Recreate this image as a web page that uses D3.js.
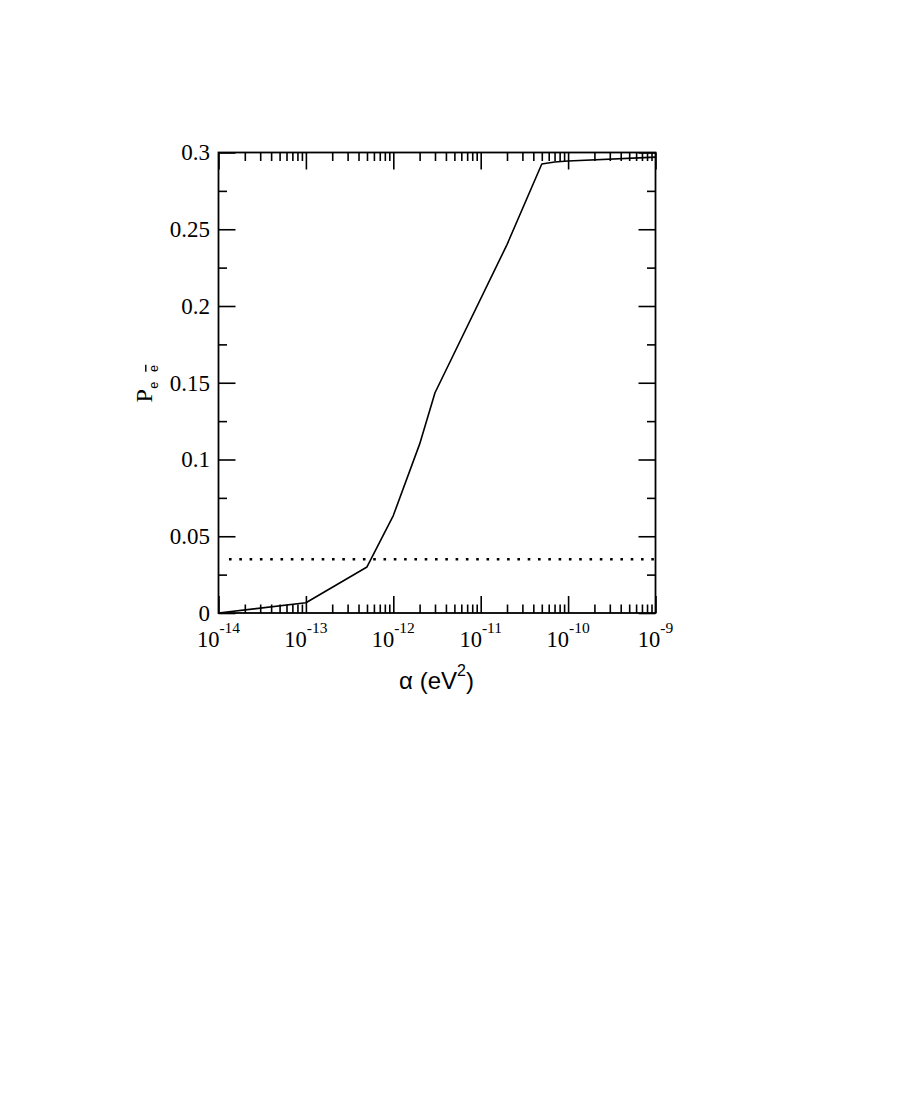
<!DOCTYPE html>
<html>
<head>
<meta charset="utf-8">
<script src="https://cdn.jsdelivr.net/npm/d3@7"></script>
<style>
  body { margin: 0; background: #fff; }
  svg { display: block; }
  .serif { font-family: "Liberation Serif", "Times New Roman", serif; }
  .sans { font-family: "Liberation Sans", Arial, sans-serif; }
</style>
</head>
<body>
<svg id="chart" width="899" height="1117"></svg>
<script>
// curve values
const alpha = [1e-14, 1e-13, 5e-13, 1e-12, 2e-12, 3e-12, 2e-11, 5e-11, 7e-11, 1e-10, 1e-9];
const prob  = [0, 0.0067, 0.030, 0.0635, 0.110, 0.1435, 0.240, 0.2925, 0.2938, 0.2945, 0.297];

// horizontal dotted reference level
const refLevel = 0.035;

// tick values
const xMajor = [1e-14, 1e-13, 1e-12, 1e-11, 1e-10, 1e-9];
const xExponents = ["-14", "-13", "-12", "-11", "-10", "-9"];
const yMajor = [0, 0.05, 0.1, 0.15, 0.2, 0.25, 0.3];
const yLabels = ["0", "0.05", "0.1", "0.15", "0.2", "0.25", "0.3"];
const yMinor = [0.025, 0.075, 0.125, 0.175, 0.225, 0.275];

const plotL = 218.5, plotR = 655.5, plotT = 152.5, plotB = 613;
const svg = d3.select("#chart");

const x = d3.scaleLog().domain([1e-14, 1e-9]).range([plotL, plotR]);
const y = d3.scaleLinear().domain([0, 0.3]).range([plotB, plotT]);

// minor ticks on log axis: 2..9 in each decade
const xMinor = [];
for (let e = -14; e < -9; e++) {
    for (let m = 2; m <= 9; m++) xMinor.push(m * Math.pow(10, e));
}

const majorLen = 17, minorLen = 8.5;

function styleAxis(g) {
    g.select(".domain").remove();
    g.selectAll("line").attr("stroke", "#000").attr("stroke-width", 1.6);
}

// bottom / top axes (ticks point inward)
svg.append("g").attr("transform", `translate(0,${plotB})`)
    .call(d3.axisBottom(x).tickValues(xMajor).tickSize(-majorLen).tickFormat(""))
    .call(styleAxis);
svg.append("g").attr("transform", `translate(0,${plotB})`)
    .call(d3.axisBottom(x).tickValues(xMinor).tickSize(-minorLen).tickFormat(""))
    .call(styleAxis);
svg.append("g").attr("transform", `translate(0,${plotT})`)
    .call(d3.axisTop(x).tickValues(xMajor).tickSize(-majorLen).tickFormat(""))
    .call(styleAxis);
svg.append("g").attr("transform", `translate(0,${plotT})`)
    .call(d3.axisTop(x).tickValues(xMinor).tickSize(-minorLen).tickFormat(""))
    .call(styleAxis);

// left / right axes
svg.append("g").attr("transform", `translate(${plotL},0)`)
    .call(d3.axisLeft(y).tickValues(yMajor).tickSize(-majorLen).tickFormat(""))
    .call(styleAxis);
svg.append("g").attr("transform", `translate(${plotL},0)`)
    .call(d3.axisLeft(y).tickValues(yMinor).tickSize(-minorLen).tickFormat(""))
    .call(styleAxis);
svg.append("g").attr("transform", `translate(${plotR},0)`)
    .call(d3.axisRight(y).tickValues(yMajor).tickSize(-majorLen).tickFormat(""))
    .call(styleAxis);
svg.append("g").attr("transform", `translate(${plotR},0)`)
    .call(d3.axisRight(y).tickValues(yMinor).tickSize(-minorLen).tickFormat(""))
    .call(styleAxis);

// frame
svg.append("rect")
    .attr("x", plotL).attr("y", plotT)
    .attr("width", plotR - plotL).attr("height", plotB - plotT)
    .attr("fill", "none").attr("stroke", "#000").attr("stroke-width", 1.8);

// x tick labels: 10 with superscript exponent
const xl = svg.append("g").selectAll("text")
    .data(xMajor)
    .enter()
    .append("text")
    .attr("class", "serif")
    .attr("x", d => x(d))
    .attr("y", 646.5)
    .attr("text-anchor", "middle")
    .attr("font-size", 22.5);
xl.append("tspan").text("10");
xl.append("tspan")
    .attr("dy", -13.5)
    .attr("font-size", 15.5)
    .text((d, i) => xExponents[i]);

// y tick labels
svg.append("g").selectAll("text")
    .data(yMajor)
    .enter()
    .append("text")
    .attr("class", "serif")
    .attr("x", 210)
    .attr("y", d => y(d))
    .attr("dy", "0.34em")
    .attr("text-anchor", "end")
    .attr("font-size", 23)
    .text((d, i) => yLabels[i]);

// dotted reference line
svg.append("line")
    .attr("x1", plotL + 10.5).attr("x2", plotR)
    .attr("y1", y(refLevel)).attr("y2", y(refLevel))
    .attr("stroke", "#000")
    .attr("stroke-width", 2.6)
    .attr("stroke-dasharray", "2.6,7.7");

// curve
const points = alpha.map((a, i) => [a, prob[i]]);
svg.append("path")
    .datum(points)
    .attr("fill", "none")
    .attr("stroke", "#000")
    .attr("stroke-width", 1.6)
    .attr("stroke-linejoin", "round")
    .attr("d", d3.line().x(d => x(d[0])).y(d => y(d[1])));

// x axis title
const xt = svg.append("text")
    .attr("class", "sans")
    .attr("x", 436.5)
    .attr("y", 689)
    .attr("text-anchor", "middle")
    .attr("font-size", 24);
xt.append("tspan").text("α (eV");
xt.append("tspan").attr("dy", -13).attr("font-size", 16).text("2");
xt.append("tspan").attr("dy", 13).text(")");

// y axis title: P with subscript "e ē"
const yt = svg.append("g").attr("transform", "translate(151.7,397) rotate(-90)");
yt.append("text")
    .attr("class", "serif")
    .attr("x", -5.5).attr("y", 0)
    .attr("font-size", 24)
    .text("P");
yt.append("text")
    .attr("class", "sans")
    .attr("x", 8.3).attr("y", 6)
    .attr("font-size", 12.5)
    .text("e");
yt.append("text")
    .attr("class", "sans")
    .attr("x", 25).attr("y", 6)
    .attr("font-size", 12.5)
    .text("e");
yt.append("line")
    .attr("x1", 25.3).attr("x2", 32.3)
    .attr("y1", -5.9).attr("y2", -5.9)
    .attr("stroke", "#000").attr("stroke-width", 1.4);
</script>
</body>
</html>
